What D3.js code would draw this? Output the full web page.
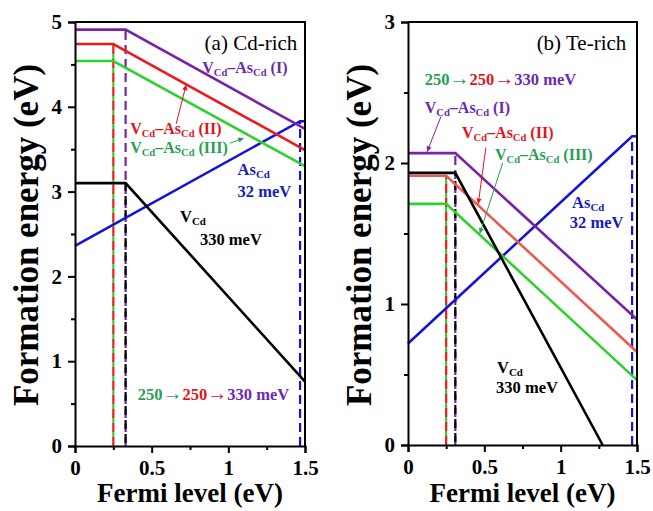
<!DOCTYPE html>
<html>
<head>
<meta charset="utf-8">
<script src="https://cdn.jsdelivr.net/npm/d3@7"></script>
<style>
  html, body { margin: 0; padding: 0; background: #fff; }
  svg { display: block; }
  text { font-family: "Liberation Serif", "Times New Roman", serif; }
</style>
</head>
<body>
<svg id="chart" width="653" height="511"></svg>
<script>
// Formation energies vs. Fermi level, piecewise-linear vertices [E_F (eV), E_form (eV)]
const cdRichComplexI   = [[0, 4.91], [0.33, 4.91], [1.5, 3.74]];
const cdRichComplexII  = [[0, 4.74], [0.25, 4.74], [1.5, 3.49]];
const cdRichComplexIII = [[0, 4.54], [0.25, 4.54], [1.5, 3.30]];
const cdRichVCd        = [[0, 3.10], [0.33, 3.10], [1.5, 0.76]];
const cdRichAsCd       = [[0, 2.36], [1.468, 3.83], [1.5, 3.83]];

const teRichComplexI   = [[0, 2.07], [0.31, 2.07], [1.5, 0.89]];
const teRichComplexII  = [[0, 1.91], [0.25, 1.91], [1.5, 0.66]];
const teRichComplexIII = [[0, 1.71], [0.25, 1.71], [1.5, 0.46]];
const teRichVCd        = [[0, 1.93], [0.31, 1.93], [1.275, 0]];
const teRichAsCd       = [[0, 0.72], [1.468, 2.19], [1.5, 2.19]];

// Transition levels: [E_F, energy at top of dashed drop line]
const cdRichLevels = { green: [0.25, 4.74], red: [0.25, 4.74], purple: [0.33, 4.91], black: [0.33, 3.10], blue: [1.468, 3.83] };
const teRichLevels = { green: [0.25, 1.91], red: [0.25, 1.91], purple: [0.31, 2.07], black: [0.31, 1.93], blue: [1.468, 2.19] };

const xTicks = [0, 0.5, 1, 1.5];
const xMinorTicks = [0.25, 0.75, 1.25];
const cdRichYTicks = [0, 1, 2, 3, 4, 5];
const cdRichYMinor = [0.5, 1.5, 2.5, 3.5, 4.5];
const teRichYTicks = [0, 1, 2, 3];
const teRichYMinor = [0.5, 1.5, 2.5];

const C = {
  purple: "#7a22a6", red: "#ea1c1c", redLight: "#ec5a52", green: "#2fd12f",
  black: "#000", blue: "#1414d8",
  tPurple: "#6b2ab0", tRed: "#e0141c", tGreen: "#25a150", tBlue: "#1a1ac0"
};

const svg = d3.select("#chart");

function subLabel(g, x, y, parts, color, size) {
  const t = g.append("text").attr("x", x).attr("y", y)
    .attr("fill", color).attr("font-weight", "bold").attr("font-size", size);
  parts.forEach(p => {
    const s = t.append("tspan").text(p.t);
    if (p.sub) s.attr("font-size", size * 0.66).attr("dy", 3);
    else if (p.up) s.attr("dy", -3);
  });
  return t;
}

function complexLabel(g, x, y, roman, color, size) {
  return subLabel(g, x, y, [
    { t: "V" }, { t: "Cd", sub: true }, { t: "\u2013As", up: true }, { t: "Cd", sub: true }, { t: " (" + roman + ")", up: true }
  ], color, size);
}

function arrow(g, x1, y1, x2, y2, color) {
  g.append("line").attr("x1", x1).attr("y1", y1).attr("x2", x2).attr("y2", y2)
    .attr("stroke", color).attr("stroke-width", 1);
  const a = Math.atan2(y2 - y1, x2 - x1), L = 6, w = 0.45;
  g.append("path")
    .attr("d", `M${x2},${y2}L${x2 - L * Math.cos(a - w)},${y2 - L * Math.sin(a - w)}L${x2 - L * Math.cos(a + w)},${y2 - L * Math.sin(a + w)}Z`)
    .attr("fill", color);
}

function panel(cfg) {
  const g = svg.append("g");
  const x = d3.scaleLinear().domain([0, 1.5]).range([cfg.x0, cfg.x1]);
  const y = d3.scaleLinear().domain([0, cfg.yMax]).range([cfg.y0, cfg.y1]);
  const line = d3.line().x(d => x(d[0])).y(d => y(d[1]));

  // Dashed drop lines at transition levels (drawn bottom-up so dash phases align)
  const lv = cfg.levels;
  const drop = (f, e) => `M${x(f)},${y(0)}L${x(f)},${y(e)}`;
  g.append("path").attr("d", drop(...lv.red)).attr("stroke", C.red).attr("stroke-width", 2.2)
    .attr("fill", "none").attr("stroke-dasharray", "9,5");
  g.append("path").attr("d", drop(...lv.green)).attr("stroke", C.green).attr("stroke-width", 2.2)
    .attr("fill", "none").attr("stroke-dasharray", "5,9").attr("stroke-dashoffset", -9);
  g.append("path").attr("d", drop(...lv.purple)).attr("stroke", C.purple).attr("stroke-width", 2.2)
    .attr("fill", "none").attr("stroke-dasharray", "9,5");
  g.append("path").attr("d", drop(...lv.black)).attr("stroke", C.black).attr("stroke-width", 2.2)
    .attr("fill", "none").attr("stroke-dasharray", "9,5").attr("stroke-dashoffset", -3);
  g.append("path").attr("d", drop(...lv.blue)).attr("stroke", C.blue).attr("stroke-width", 2.2)
    .attr("fill", "none").attr("stroke-dasharray", "9,5");

  // Formation-energy lines
  cfg.series.forEach(s => {
    g.append("path").datum(s.data).attr("d", line).attr("fill", "none")
      .attr("stroke", s.color).attr("stroke-width", 2.6).attr("stroke-linejoin", "miter");
  });

  // Axes
  g.append("g").attr("transform", `translate(0,${cfg.y0})`)
    .call(d3.axisBottom(x).tickValues(xTicks).tickSize(7).tickPadding(7).tickFormat(d3.format("")));
  g.append("g").attr("transform", `translate(0,${cfg.y0})`)
    .call(d3.axisBottom(x).tickValues(xMinorTicks).tickSize(4).tickFormat(""))
    .call(s => s.select(".domain").remove());
  g.append("g").attr("transform", `translate(${cfg.x0},0)`)
    .call(d3.axisLeft(y).tickValues(cfg.yTicks).tickSize(7).tickPadding(6).tickFormat(d3.format("d")));
  g.append("g").attr("transform", `translate(${cfg.x0},0)`)
    .call(d3.axisLeft(y).tickValues(cfg.yMinor).tickSize(4).tickFormat(""))
    .call(s => s.select(".domain").remove());
  g.selectAll(".tick line").attr("stroke", "#000").attr("stroke-width", 2);
  g.selectAll(".domain").attr("stroke", "#000").attr("stroke-width", 2);
  g.selectAll(".tick text").attr("font-family", "Liberation Serif, serif")
    .attr("font-weight", "bold").attr("font-size", 21).attr("fill", "#000");
  // frame top and right
  g.append("path").attr("d", `M${cfg.x0},${cfg.y1}H${cfg.x1}V${cfg.y0}`)
    .attr("fill", "none").attr("stroke", "#000").attr("stroke-width", 2);

  // Axis titles
  g.append("text").attr("x", (cfg.x0 + cfg.x1) / 2).attr("y", 502).attr("text-anchor", "middle")
    .attr("font-weight", "bold").attr("font-size", 27).text("Fermi level (eV)");
  g.append("text").attr("transform", `translate(${cfg.x0 - 37},235) rotate(-90)`)
    .attr("text-anchor", "middle").attr("font-weight", "bold").attr("font-size", 35)
    .text("Formation energy (eV)");

  // Annotations
  const A = cfg.ann;
  g.append("text").attr("x", x(A.title[0])).attr("y", y(A.title[1])).attr("text-anchor", "end")
    .attr("font-size", 21).text(A.title[2]);
  complexLabel(g, x(A.I[0]), y(A.I[1]), "I", C.tPurple, 16);
  complexLabel(g, x(A.II[0]), y(A.II[1]), "II", C.tRed, 16);
  complexLabel(g, x(A.III[0]), y(A.III[1]), "III", C.tGreen, 16);
  subLabel(g, x(A.as[0]), y(A.as[1]), [{ t: "As" }, { t: "Cd", sub: true }], C.tBlue, 16.5);
  subLabel(g, x(A.as32[0]), y(A.as32[1]), [{ t: "32 meV" }], C.tBlue, 16.5);
  subLabel(g, x(A.v[0]), y(A.v[1]), [{ t: "V" }, { t: "Cd", sub: true }], "#000", 16.5);
  subLabel(g, x(A.v330[0]), y(A.v330[1]), [{ t: "330 meV" }], "#000", 16.5);
  const seq = g.append("text").attr("x", x(A.seq[0])).attr("y", y(A.seq[1]))
    .attr("font-weight", "bold").attr("font-size", 16.5);
  seq.append("tspan").attr("fill", C.tGreen).text("250");
  seq.append("tspan").attr("fill", C.tGreen).attr("font-size", 20).text("\u2192");
  seq.append("tspan").attr("fill", C.tRed).text("250");
  seq.append("tspan").attr("fill", C.tRed).attr("font-size", 20).text("\u2192");
  seq.append("tspan").attr("fill", C.tPurple).text("330 meV");

  cfg.arrows.forEach(a => arrow(g, x(a[0]), y(a[1]), x(a[2]), y(a[3]), a[4]));
}

panel({
  x0: 75, x1: 305, y0: 446, y1: 22, yMax: 5,
  yTicks: cdRichYTicks, yMinor: cdRichYMinor, levels: cdRichLevels,
  series: [
    { data: cdRichAsCd, color: C.blue },
    { data: cdRichVCd, color: C.black },
    { data: cdRichComplexIII, color: C.green },
    { data: cdRichComplexII, color: C.red },
    { data: cdRichComplexI, color: C.purple }
  ],
  ann: {
    title: [1.45, 4.67, "(a) Cd-rich"],
    I: [0.83, 4.40], II: [0.36, 3.68], III: [0.36, 3.455],
    as: [1.06, 3.20], as32: [1.06, 2.94],
    v: [0.685, 2.64], v330: [0.815, 2.37],
    seq: [0.41, 0.54]
  },
  arrows: [
    [0.66, 3.80, 0.725, 4.26, C.tRed],
    [1.01, 3.57, 1.10, 3.63, C.tGreen]
  ]
});

panel({
  x0: 408, x1: 637, y0: 445, y1: 22, yMax: 3,
  yTicks: teRichYTicks, yMinor: teRichYMinor, levels: teRichLevels,
  series: [
    { data: teRichAsCd, color: C.blue },
    { data: teRichComplexIII, color: C.green },
    { data: teRichComplexII, color: C.redLight },
    { data: teRichVCd, color: C.black },
    { data: teRichComplexI, color: C.purple }
  ],
  ann: {
    title: [1.43, 2.80, "(b) Te-rich"],
    I: [0.11, 2.355], II: [0.354, 2.18], III: [0.57, 2.02],
    as: [1.075, 1.68], as32: [1.06, 1.54],
    v: [0.583, 0.51], v330: [0.577, 0.37],
    seq: [0.11, 2.55]
  },
  arrows: [
    [0.216, 2.33, 0.125, 2.08, C.purple],
    [0.51, 2.11, 0.46, 1.71, C.tRed],
    [0.62, 2.00, 0.47, 1.50, C.tGreen]
  ]
});
</script>
</body>
</html>
